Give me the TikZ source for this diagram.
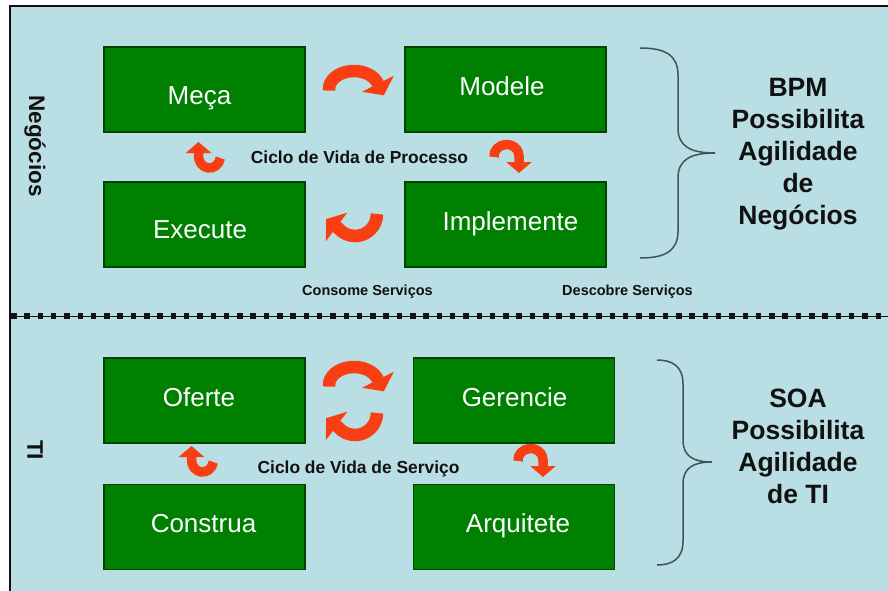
\documentclass[tikz,border=0pt]{standalone}
\usepackage{fontspec}
\setmainfont{Liberation Sans}
\usetikzlibrary{arrows.meta}
\definecolor{panel}{RGB}{185,222,227}
\definecolor{boxgreen}{RGB}{0,128,0}
\definecolor{boxedge}{RGB}{0,70,0}
\definecolor{cyclered}{RGB}{250,62,20}
\definecolor{bracegray}{RGB}{60,85,90}
\definecolor{ink}{RGB}{17,17,17}
\begin{document}
\begin{tikzpicture}[x=1pt,y=-1pt,
  stage/.style={draw=boxedge, line width=1.2pt, fill=boxgreen,
    minimum width=201pt, minimum height=85pt, inner sep=0pt},
  stagetext/.style={text=white, font=\fontsize{26}{30}\selectfont, anchor=base, inner sep=0pt},
  claim/.style={font=\bfseries\fontsize{26.5}{32}\selectfont, text=ink, align=center, inner sep=0pt},
  cyclelabel/.style={font=\bfseries\fontsize{17.4}{20}\selectfont, text=ink, anchor=base, inner sep=0pt},
  servlabel/.style={font=\bfseries\fontsize{14.5}{17}\selectfont, text=ink, anchor=base, inner sep=0pt},
  sidelabel/.style={font=\bfseries\fontsize{22.5}{26}\selectfont, text=ink, rotate=-90, inner sep=0pt},
  bigturn/.style={draw=cyclered, line width=12.5pt, -{Triangle[width=35pt,length=13pt]}},
  smallturn/.style={draw=cyclered, line width=9.5pt, -{Triangle[width=25pt,length=11pt]}},
  brace/.style={draw=bracegray, line width=1.5pt},
]
\useasboundingbox (0,0) rectangle (888,591);
\clip (0,0) rectangle (888,591);
\fill[white] (0,0) rectangle (888,591);
\draw[fill=panel, draw=ink, line width=1.2pt] (10,6) rectangle (900,600);

% separator between business and IT layers
\coordinate (sepL) at (10,316);
\coordinate (sepR) at (890,316);
\draw[ink, line width=1pt] (sepL) -- (sepR);
\draw[ink, line width=5.5pt, dash pattern=on 5.5pt off 7.8pt] ([xshift=1pt]sepL) -- (sepR);

% process life cycle
\node[stage] (meca) at (204.5,89.5) {};
\node[stage] (modele) at (505.5,89.5) {};
\node[stage] (execute) at (204.5,224.5) {};
\node[stage] (implemente) at (505.5,224.5) {};
\node[stagetext] (meca-t) at (199.5,104.5) {Meça};
\node[stagetext] (modele-t) at (502,96) {Modele};
\node[stagetext] (execute-t) at (200,238.5) {Execute};
\node[stagetext] (implemente-t) at (510.5,230) {Implemente};

% service life cycle
\node[stage] (oferte) at (204.5,400.5) {};
\node[stage] (gerencie) at (514,400.5) {};
\node[stage] (construa) at (204.5,527) {};
\node[stage] (arquitete) at (514,527) {};
\node[stagetext] (oferte-t) at (199,406) {Oferte};
\node[stagetext] (gerencie-t) at (514.5,406) {Gerencie};
\node[stagetext] (construa-t) at (203.5,532) {Construa};
\node[stagetext] (arquitete-t) at (518,532) {Arquitete};

% cycle captions
\node[cyclelabel] (proc) at (359.5,163) {Ciclo de Vida de Processo};
\node[cyclelabel] (serv) at (358.5,473) {Ciclo de Vida de Serviço};
\node[servlabel] (consome) at (367.5,295) {Consome Serviços};
\node[servlabel] (descobre) at (627.5,295) {Descobre Serviços};

% layer names
\node[sidelabel] (neg) at (35,146) {Negócios};
\node[sidelabel] (ti) at (35,450) {TI};

% claims
\node[claim] (bpm) at (798,154) {BPM\\Possibilita\\Agilidade\\de\\Negócios};
\node[claim] (soa) at (798,446) {SOA\\Possibilita\\Agilidade\\de TI};

% braces
\draw[brace] (640,48) .. controls (665,48) and (678,55) .. (678,75) -- (678,128)
  .. controls (678,146) and (690,153) .. (715,153)
  .. controls (690,153) and (678,160) .. (678,178) -- (678,231)
  .. controls (678,251) and (665,258) .. (640,258);
\draw[brace] (657,360) .. controls (672,360) and (683,366) .. (683,384) -- (683,440)
  .. controls (683,456) and (693,462) .. (712,462)
  .. controls (693,462) and (683,468) .. (683,484) -- (683,541)
  .. controls (683,559) and (672,565) .. (657,565);

% turning arrows, process cycle
\draw[bigturn] (354,89) ++(175:25 and 18) arc[start angle=175,end angle=340,x radius=25,y radius=18] -- ++(6.3,12.5);
\draw[smallturn] (506.5,156) ++(175:12.5 and 11.5) arc[start angle=175,end angle=360,x radius=12.5,y radius=11.5] -- ++(0,17);
\draw[bigturn] (355,214) ++(0:22 and 22) arc[start angle=0,end angle=140,x radius=22,y radius=22] -- ++(-12,-9);
\draw[smallturn] (209.5,156) ++(10:11 and 12) arc[start angle=10,end angle=180,x radius=11,y radius=12] -- ++(0,-14);

% turning arrows, service cycle
\draw[bigturn] (354,385) ++(175:25 and 18) arc[start angle=175,end angle=340,x radius=25,y radius=18] -- ++(6.3,12.5);
\draw[bigturn] (355,413) ++(0:22 and 22) arc[start angle=0,end angle=140,x radius=22,y radius=22] -- ++(-12,-9);
\draw[smallturn] (530.5,460) ++(175:12.5 and 11.5) arc[start angle=175,end angle=360,x radius=12.5,y radius=11.5] -- ++(0,17);
\draw[smallturn] (202.5,460) ++(10:11 and 12) arc[start angle=10,end angle=180,x radius=11,y radius=12] -- ++(0,-14);
\end{tikzpicture}
\end{document}
